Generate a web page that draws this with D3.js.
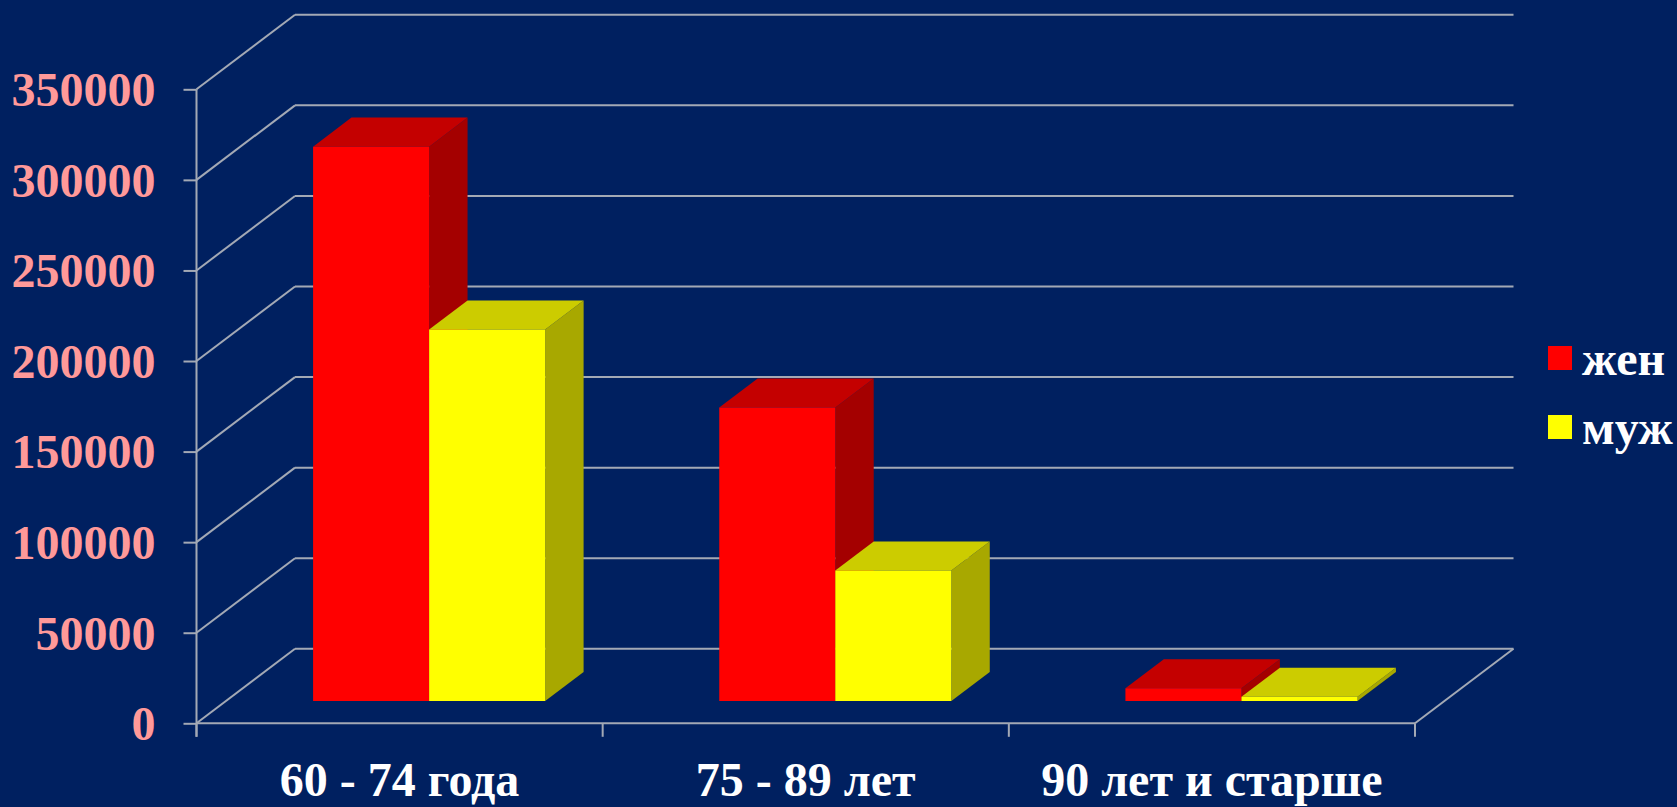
<!DOCTYPE html>
<html>
<head>
<meta charset="utf-8">
<script src="https://cdn.jsdelivr.net/npm/d3@7"></script>
<style>
  html, body { margin: 0; padding: 0; background: #002060; }
  svg { display: block; }
</style>
</head>
<body>
<svg id="chart" width="1677" height="807"></svg>
<script>
// ---- data ----
const categories = ["60 - 74 года", "75 - 89 лет", "90 лет и старше"];
const seriesNames = ["жен", "муж"];
const women = [306000, 162000, 7000];
const men = [205000, 72000, 2300];
const yTicks = [0, 50000, 100000, 150000, 200000, 250000, 300000, 350000];

// ---- layout ----
const W = 1677, H = 807;
const svg = d3.select("#chart");
svg.append("rect").attr("width", W).attr("height", H).attr("fill", "#002060");

const DX = 98.5, DY = 74.5;      // full depth offset of the 3D floor
const F0 = 0.30, F1 = 0.69;      // bar depth range (fraction of depth)
const gridColor = "#a3a9b5";

const x = d3.scaleBand().domain(categories).range([196.5, 1415]).padding(0);
const xs = d3.scaleBand().domain(seriesNames).range([0, x.bandwidth()]).paddingInner(0).paddingOuter(0.75);
const y = d3.scaleLinear().domain([0, 350000]).range([723.3, 89.3]);

const seriesData = [
  { name: "жен", values: women, front: "#ff0000", top: "#c40000", side: "#a40000" },
  { name: "муж", values: men, front: "#ffff00", top: "#cccc00", side: "#a8a800" }
];

const x0 = x.range()[0], x1 = x.range()[1];

// ---- walls / gridlines ----
const grid = svg.append("g").attr("stroke", gridColor).attr("stroke-width", 2).attr("fill", "none");
yTicks.forEach(v => {
  // back-wall horizontal gridline
  grid.append("line")
    .attr("x1", x0 + DX).attr("y1", y(v) - DY)
    .attr("x2", x1 + DX).attr("y2", y(v) - DY);
  // left-wall diagonal
  grid.append("line")
    .attr("x1", x0).attr("y1", y(v))
    .attr("x2", x0 + DX).attr("y2", y(v) - DY);
});
// floor front edge and right edge
grid.append("line").attr("x1", x0).attr("y1", y(0)).attr("x2", x1).attr("y2", y(0));
grid.append("line").attr("x1", x1).attr("y1", y(0)).attr("x2", x1 + DX).attr("y2", y(0) - DY);

// y axis (front vertical line + ticks + labels)
const yAxis = d3.axisLeft(y).tickValues(yTicks).tickSize(13).tickSizeOuter(0).tickPadding(0).tickFormat(d3.format("d"));
const gy = svg.append("g").attr("transform", `translate(${x0},0)`).call(yAxis);
gy.select(".domain").remove();
gy.selectAll(".tick line").attr("stroke", gridColor).attr("stroke-width", 2);
gy.selectAll(".tick text")
  .attr("x", -41)
  .attr("dy", "0.34em")
  .attr("fill", "#ff9999")
  .style("font-family", "'Liberation Serif', 'Times New Roman', serif")
  .style("font-weight", "bold")
  .style("font-size", "48px");
svg.append("line").attr("x1", x0).attr("x2", x0).attr("y1", y(350000)).attr("y2", y(0) + 13.5)
  .attr("stroke", gridColor).attr("stroke-width", 2);

// category tick marks (between categories)
const boundaries = categories.map(c => x(c)).concat([x1]);
svg.append("g").selectAll("line").data(boundaries).join("line")
  .attr("x1", d => d).attr("x2", d => d)
  .attr("y1", y(0)).attr("y2", y(0) + 13.5)
  .attr("stroke", gridColor).attr("stroke-width", 2);

// category labels
svg.append("g").selectAll("text").data(categories).join("text")
  .attr("x", d => x(d) + x.bandwidth() / 2)
  .attr("y", 796)
  .attr("text-anchor", "middle")
  .attr("fill", "#ffffff")
  .style("font-family", "'Liberation Serif', 'Times New Roman', serif")
  .style("font-weight", "bold")
  .style("font-size", "48px")
  .text(d => d);

// ---- 3D bars ----
const bars = svg.append("g");
const P = (xf, v, f) => [xf + f * DX, y(v) - f * DY];
const poly = pts => pts.map(p => p.join(",")).join(" ");

categories.forEach((cat, ci) => {
  seriesData.forEach(s => {
    const v = s.values[ci];
    const xl = x(cat) + xs(s.name);
    const xr = xl + xs.bandwidth();
    const g = bars.append("g");
    // right side face
    g.append("polygon").attr("fill", s.side)
      .attr("points", poly([P(xr, 0, F0), P(xr, 0, F1), P(xr, v, F1), P(xr, v, F0)]));
    // top face
    g.append("polygon").attr("fill", s.top)
      .attr("points", poly([P(xl, v, F0), P(xr, v, F0), P(xr, v, F1), P(xl, v, F1)]));
    // front face
    g.append("polygon").attr("fill", s.front)
      .attr("points", poly([P(xl, 0, F0), P(xr, 0, F0), P(xr, v, F0), P(xl, v, F0)]));
  });
});

// ---- legend ----
const legend = svg.append("g");
const legendY = [346, 415];
seriesData.forEach((s, i) => {
  legend.append("rect")
    .attr("x", 1548).attr("y", legendY[i]).attr("width", 24).attr("height", 24)
    .attr("fill", s.front);
  legend.append("text")
    .attr("x", 1582).attr("y", legendY[i] + 29)
    .attr("fill", "#ffffff")
    .style("font-family", "'Liberation Serif', 'Times New Roman', serif")
    .style("font-weight", "bold")
    .style("font-size", "48px")
    .text(s.name);
});
</script>
</body>
</html>
